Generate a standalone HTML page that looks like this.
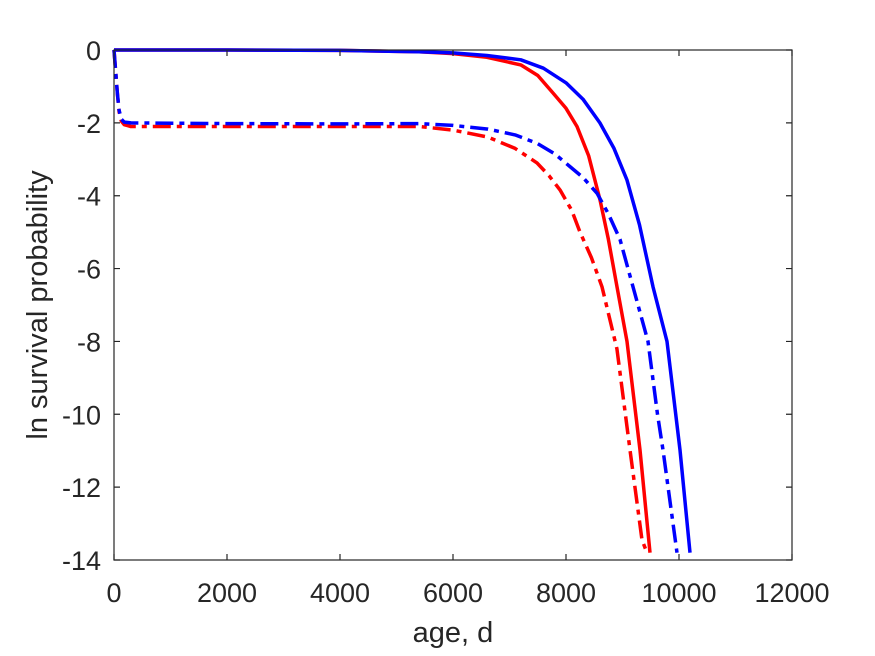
<!DOCTYPE html>
<html><head><meta charset="utf-8">
<style>
body{margin:0;background:#fff;}
svg{display:block;font-family:"Liberation Sans",Arial,sans-serif;}
.tk{font-size:27px;fill:#262626;}
</style></head>
<body>
<svg id="chart" width="875" height="656" viewBox="0 0 875 656">
<rect width="875" height="656" fill="#fff"/>
<g id="grid"></g>
<g id="series"></g>
<rect x="114" y="50" width="678" height="510" fill="none" stroke="#262626" stroke-width="1.2"/>
<g id="ticks"></g>
<text x="453" y="642" text-anchor="middle" font-size="29" fill="#262626">age, d</text>
<text transform="translate(47,305) rotate(-90)" text-anchor="middle" font-size="29" fill="#262626">ln survival probability</text>
</svg>
<script>
const xTicks=[0,2000,4000,6000,8000,10000,12000];
const yTicks=[0,-2,-4,-6,-8,-10,-12,-14];
const blueSolidX=[0,2000,4000,5400,6000,6600,7200,7600,8000,8300,8600,8850,9080,9300,9540,9788,10018,10195];
const blueSolidY=[0,0,-0.01,-0.05,-0.08,-0.15,-0.27,-0.5,-0.9,-1.35,-2.0,-2.7,-3.57,-4.8,-6.5,-8.0,-10.98,-13.8];
const redSolidX=[0,2000,4000,5400,6000,6600,7200,7500,7770,8000,8195,8400,8600,8750,8903,9080,9310,9487];
const redSolidY=[0,0,-0.01,-0.05,-0.1,-0.2,-0.41,-0.7,-1.18,-1.6,-2.1,-2.9,-4.1,-5.2,-6.5,-8.0,-10.98,-13.8];
const blueDashX=[0,30,60,90,130,180,300,2000,4000,5400,6000,6620,7100,7487,7800,8071,8300,8549,8750,8956,9186,9451,9620,9717,9965];
const blueDashY=[0,-0.6,-1.2,-1.65,-1.9,-1.98,-2.0,-2.02,-2.03,-2.02,-2.07,-2.17,-2.33,-2.56,-2.85,-3.2,-3.5,-3.93,-4.5,-5.2,-6.5,-8.0,-10.0,-10.98,-13.8];
const redDashX=[0,30,60,90,130,180,300,2000,4000,5400,6000,6620,7100,7487,7700,7894,8100,8248,8450,8637,8900,9133,9345,9434];
const redDashY=[0,-0.6,-1.2,-1.7,-1.95,-2.05,-2.1,-2.1,-2.1,-2.1,-2.2,-2.39,-2.7,-3.1,-3.45,-3.84,-4.4,-5.0,-5.7,-6.5,-8.2,-10.98,-13.45,-13.8];
const NS="http://www.w3.org/2000/svg";
const X0=114,X1=792,Y0=50,Y1=560;
function sx(v){return X0+(v-0)/(12000-0)*(X1-X0);}
function sy(v){return Y0+(0-v)/(0-(-14))*(Y1-Y0);}
const ticks=document.getElementById('ticks');
xTicks.forEach(t=>{
  const x=sx(t);
  const l=document.createElementNS(NS,'path');
  
  
  l.setAttribute('d',`M${x},${Y1}V${Y1-6}M${x},${Y0}V${Y0+6}`);
  l.setAttribute('stroke','#262626');l.setAttribute('stroke-width','1.2');
  ticks.appendChild(l);
  const tx=document.createElementNS(NS,'text');
  
  
  tx.setAttribute('x',x);tx.setAttribute('y',602);
  tx.setAttribute('text-anchor','middle');tx.setAttribute('class','tk');
  tx.textContent=t;ticks.appendChild(tx);
});
yTicks.forEach(t=>{
  const y=sy(t);
  const l=document.createElementNS(NS,'path');
  
  
  l.setAttribute('d',`M${X0},${y}H${X0+6}M${X1},${y}H${X1-6}`);
  l.setAttribute('stroke','#262626');l.setAttribute('stroke-width','1.2');
  ticks.appendChild(l);
  const tx=document.createElementNS(NS,'text');
  
  
  tx.setAttribute('x',101);tx.setAttribute('y',y+10);
  tx.setAttribute('text-anchor','end');tx.setAttribute('class','tk');
  tx.textContent=t;ticks.appendChild(tx);
});
const series=document.getElementById('series');
function draw(xs,ys,color,dash,name){
  const p=document.createElementNS(NS,'polyline');
  
  
  p.setAttribute('points',xs.map((x,i)=>sx(x).toFixed(1)+','+sy(ys[i]).toFixed(1)).join(' '));
  p.setAttribute('fill','none');p.setAttribute('stroke',color);
  p.setAttribute('stroke-width','3.5');p.setAttribute('stroke-linejoin','round');
  if(dash)p.setAttribute('stroke-dasharray',dash);
  series.appendChild(p);
}
draw(redDashX,redDashY,'#ff0000','18 6 5 6','red-dashdot-line');
draw(redSolidX,redSolidY,'#ff0000',null,'red-solid-line');
draw(blueDashX,blueDashY,'#0000ff','18 6 5 6','blue-dashdot-line');
draw(blueSolidX,blueSolidY,'#0000ff',null,'blue-solid-line');
</script>
</body></html>
